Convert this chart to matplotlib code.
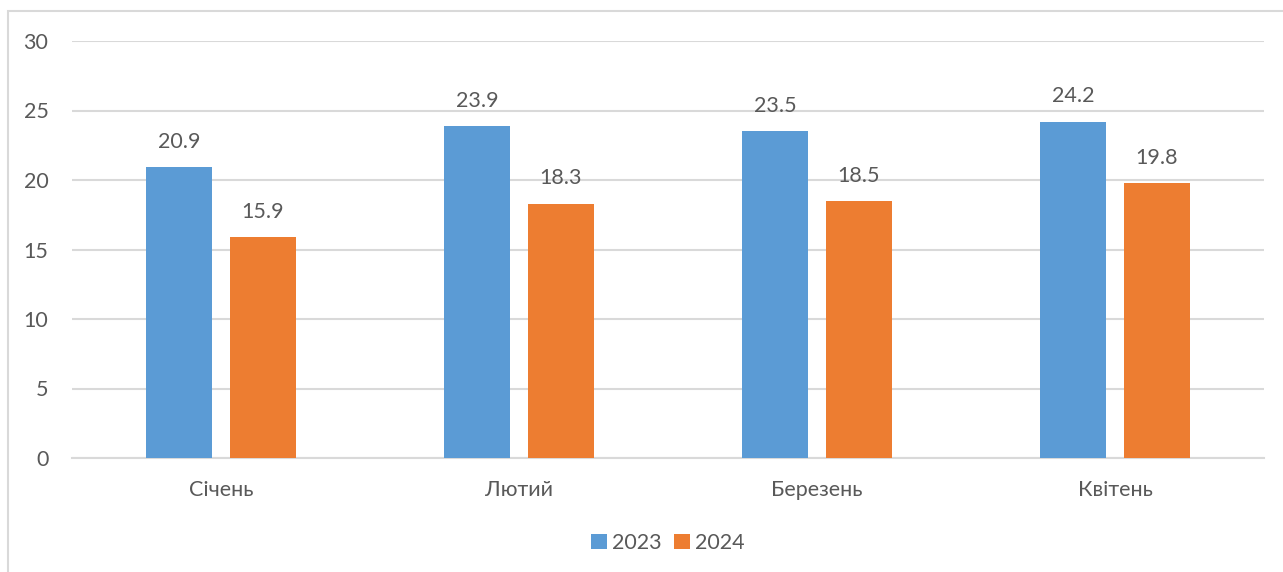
import matplotlib.pyplot as plt
from matplotlib.patches import Rectangle
import numpy as np

plt.rcParams['font.family'] = ['Lato', 'DejaVu Sans']

months = ["Січень", "Лютий", "Березень", "Квітень"]
series_names = ["2023", "2024"]
values_2023 = [20.9, 23.9, 23.5, 24.2]
values_2024 = [15.9, 18.3, 18.5, 19.8]
y_ticks = [0, 5, 10, 15, 20, 25, 30]

colors = ["#5B9BD5", "#ED7D31"]
text_color = "#595959"
grid_color = "#D9D9D9"
fs = 15.5

fig = plt.figure(figsize=(12.83, 5.72), dpi=100)
ax = fig.add_axes([72 / 1283, 1 - 458 / 572, (1264 - 72) / 1283, (458 - 41) / 572])

# outer chart border (only top/left visible in the reference)
fig.patches.append(Rectangle((8 / 1283, -0.5), 1.5, 1.5 - 11 / 572,
                             transform=fig.transFigure, fill=False,
                             edgecolor=grid_color, linewidth=1.5))

x = np.arange(len(months))
width = 0.2215
offset = 0.141

for vals, off, col, name in [(values_2023, -offset, colors[0], series_names[0]),
                             (values_2024, offset, colors[1], series_names[1])]:
    bars = ax.bar(x + off, vals, width, color=col, label=name, zorder=3)
    for b, v in zip(bars, vals):
        ax.annotate(f"{v:.1f}", (b.get_x() + b.get_width() / 2, v),
                    xytext=(0, 11), textcoords="offset points",
                    ha="center", va="bottom", fontsize=fs, color=text_color)

ax.set_xlim(-0.5, len(months) - 0.5)
ax.set_ylim(0, 30)
ax.set_yticks(y_ticks)
ax.set_xticks(x)
ax.set_xticklabels(months)
ax.yaxis.grid(True, color=grid_color, linewidth=1.5, zorder=0)
ax.set_axisbelow(True)

for s in ["top", "right", "left"]:
    ax.spines[s].set_visible(False)
ax.spines["bottom"].set_color(grid_color)
ax.spines["bottom"].set_linewidth(1.5)

ax.tick_params(axis="both", length=0, labelsize=fs, labelcolor=text_color)
ax.tick_params(axis="y", pad=17)
ax.tick_params(axis="x", pad=16)

ax.legend(loc="center", bbox_to_anchor=(0.5, -0.205), ncol=2, frameon=False,
          fontsize=fs, labelcolor=text_color, handlelength=0.7, handleheight=0.7,
          handletextpad=0.25, columnspacing=0.6)

fig.savefig("out.png", dpi=100)
